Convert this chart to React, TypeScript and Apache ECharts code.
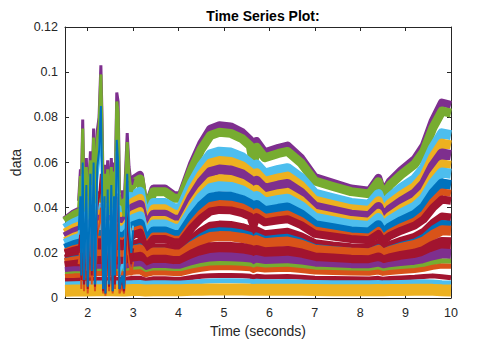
import React, { useEffect, useRef } from "react";
import * as echarts from "echarts";

// Sample times (seconds) shared by the band series
const times = [1.5, 1.7, 1.9, 2.2, 2.5, 2.8, 3.0, 3.15, 3.27, 3.45, 3.7, 3.9, 4.05, 4.3, 4.5, 4.7, 4.9, 5.15, 5.4, 5.58, 5.65, 5.72, 5.9, 6.2, 6.4, 6.7, 7.0, 7.4, 7.8, 8.2, 8.4, 8.5, 8.65, 8.9, 9.2, 9.4, 9.6, 9.8, 10];

// Band series, top to bottom
const band01 = [0.0345, 0.0375, 0.0395, 0.0455, 0.0455, 0.0435, 0.0525, 0.0545, 0.0385, 0.0485, 0.0485, 0.0455, 0.0455, 0.0595, 0.0685, 0.075, 0.0765, 0.076, 0.0735, 0.07, 0.0615, 0.0695, 0.0645, 0.0665, 0.0675, 0.062, 0.0535, 0.051, 0.0485, 0.0475, 0.0532, 0.0465, 0.0515, 0.0565, 0.0615, 0.0675, 0.0785, 0.0865, 0.0855];
const band02 = [0.0339, 0.0367, 0.0386, 0.0442, 0.0442, 0.0424, 0.0508, 0.0527, 0.0377, 0.0471, 0.0471, 0.0442, 0.0442, 0.0574, 0.0659, 0.072, 0.0734, 0.0729, 0.0706, 0.0673, 0.0593, 0.0668, 0.0621, 0.064, 0.0649, 0.0598, 0.0518, 0.0494, 0.0471, 0.0461, 0.0515, 0.0452, 0.0499, 0.0546, 0.0593, 0.0649, 0.0753, 0.0828, 0.0819];
const band03 = [0.0308, 0.0332, 0.0349, 0.0397, 0.0397, 0.0381, 0.0454, 0.047, 0.034, 0.0421, 0.0421, 0.0397, 0.0397, 0.0511, 0.0583, 0.0636, 0.0648, 0.0644, 0.0624, 0.0595, 0.0526, 0.0591, 0.0551, 0.0567, 0.0575, 0.0531, 0.0462, 0.0441, 0.0421, 0.0413, 0.046, 0.0405, 0.0445, 0.0486, 0.0526, 0.0575, 0.0664, 0.0729, 0.0721];
const band04 = [0.0288, 0.031, 0.0326, 0.0371, 0.0371, 0.0356, 0.0425, 0.0441, 0.0318, 0.0395, 0.0395, 0.0371, 0.0371, 0.0479, 0.0548, 0.0597, 0.0609, 0.0605, 0.0586, 0.0559, 0.0494, 0.0555, 0.0517, 0.0532, 0.054, 0.0498, 0.0433, 0.0414, 0.0395, 0.0387, 0.0431, 0.0379, 0.0418, 0.0456, 0.0494, 0.054, 0.0625, 0.0686, 0.0678];
const band05 = [0.0269, 0.029, 0.0305, 0.0347, 0.0347, 0.0333, 0.0398, 0.0412, 0.0298, 0.0369, 0.0369, 0.0347, 0.0347, 0.0448, 0.0512, 0.0558, 0.0569, 0.0565, 0.0548, 0.0522, 0.0462, 0.0519, 0.0483, 0.0498, 0.0505, 0.0465, 0.0405, 0.0387, 0.0369, 0.0362, 0.0403, 0.0355, 0.039, 0.0426, 0.0462, 0.0505, 0.0584, 0.064, 0.0633];
const band06 = [0.0252, 0.0272, 0.0285, 0.0325, 0.0325, 0.0312, 0.0371, 0.0385, 0.0278, 0.0345, 0.0345, 0.0325, 0.0325, 0.0418, 0.0477, 0.052, 0.053, 0.0527, 0.051, 0.0487, 0.0431, 0.0483, 0.045, 0.0464, 0.047, 0.0434, 0.0378, 0.0361, 0.0345, 0.0338, 0.0376, 0.0331, 0.0364, 0.0398, 0.0431, 0.047, 0.0543, 0.0596, 0.059];
const band07 = [0.024, 0.0258, 0.0271, 0.0307, 0.0307, 0.0295, 0.0349, 0.0362, 0.0264, 0.0325, 0.0325, 0.0307, 0.0307, 0.0392, 0.0447, 0.0486, 0.0495, 0.0492, 0.0477, 0.0455, 0.0404, 0.0452, 0.0422, 0.0434, 0.044, 0.0407, 0.0356, 0.034, 0.0325, 0.0319, 0.0354, 0.0313, 0.0343, 0.0374, 0.0404, 0.044, 0.0507, 0.0556, 0.055];
const band08 = [0.0218, 0.0234, 0.0245, 0.0279, 0.0279, 0.0268, 0.0318, 0.0329, 0.024, 0.0295, 0.0295, 0.0279, 0.0279, 0.0357, 0.0407, 0.0443, 0.0451, 0.0448, 0.0434, 0.0415, 0.0368, 0.0412, 0.0384, 0.0395, 0.0401, 0.037, 0.0323, 0.0309, 0.0295, 0.029, 0.0322, 0.0284, 0.0312, 0.034, 0.0368, 0.0401, 0.0462, 0.0507, 0.0501];
const band09 = [0.0204, 0.0219, 0.0229, 0.026, 0.026, 0.025, 0.0296, 0.0306, 0.0224, 0.0275, 0.0275, 0.026, 0.026, 0.0331, 0.0377, 0.041, 0.0418, 0.0415, 0.0403, 0.0385, 0.0341, 0.0382, 0.0357, 0.0367, 0.0372, 0.0344, 0.0301, 0.0288, 0.0275, 0.027, 0.0299, 0.0265, 0.029, 0.0316, 0.0341, 0.0372, 0.0428, 0.0469, 0.0464];
const band10 = [0.0197, 0.021, 0.022, 0.0247, 0.0247, 0.0238, 0.0279, 0.0289, 0.0215, 0.0261, 0.0261, 0.0247, 0.0247, 0.0312, 0.0353, 0.0383, 0.039, 0.0388, 0.0376, 0.036, 0.0321, 0.0358, 0.0335, 0.0344, 0.0349, 0.0323, 0.0284, 0.0272, 0.0261, 0.0256, 0.0283, 0.0252, 0.0275, 0.0298, 0.0321, 0.0349, 0.0399, 0.0436, 0.0431];
const band11 = [0.0174, 0.0185, 0.0192, 0.0214, 0.0214, 0.0207, 0.0239, 0.0246, 0.0189, 0.0225, 0.0225, 0.0214, 0.0214, 0.0264, 0.0296, 0.032, 0.0325, 0.0323, 0.0314, 0.0302, 0.0271, 0.03, 0.0282, 0.0289, 0.0293, 0.0273, 0.0243, 0.0233, 0.0225, 0.0221, 0.0242, 0.0217, 0.0235, 0.0253, 0.0271, 0.0293, 0.0332, 0.0361, 0.0357];
const band12 = [0.0164, 0.0174, 0.018, 0.0199, 0.0199, 0.0193, 0.0222, 0.0229, 0.0177, 0.0209, 0.0209, 0.0199, 0.0199, 0.0245, 0.0274, 0.0295, 0.03, 0.0298, 0.029, 0.0279, 0.0251, 0.0277, 0.0261, 0.0268, 0.0271, 0.0253, 0.0226, 0.0217, 0.0209, 0.0206, 0.0225, 0.0203, 0.0219, 0.0235, 0.0251, 0.0271, 0.0307, 0.0332, 0.0329];
const band13 = [0.0154, 0.0162, 0.0167, 0.0193, 0.0193, 0.0188, 0.0211, 0.0216, 0.0174, 0.0201, 0.0201, 0.0193, 0.0193, 0.023, 0.0253, 0.027, 0.0274, 0.0273, 0.0266, 0.0257, 0.0235, 0.0256, 0.0242, 0.0248, 0.025, 0.0236, 0.0214, 0.0207, 0.0201, 0.0198, 0.0213, 0.0195, 0.0208, 0.0222, 0.0235, 0.025, 0.0279, 0.03, 0.0298];
const band14 = [0.0136, 0.0142, 0.0147, 0.0159, 0.0159, 0.0155, 0.0173, 0.0178, 0.0144, 0.0165, 0.0165, 0.0159, 0.0159, 0.0188, 0.0207, 0.022, 0.0223, 0.0222, 0.0217, 0.021, 0.0192, 0.0208, 0.0198, 0.0202, 0.0204, 0.0193, 0.0175, 0.017, 0.0165, 0.0163, 0.0175, 0.0161, 0.0171, 0.0182, 0.0192, 0.0204, 0.0227, 0.0244, 0.0242];
const band15 = [0.0115, 0.0118, 0.012, 0.0128, 0.0128, 0.0125, 0.014, 0.0143, 0.0117, 0.0133, 0.0133, 0.0128, 0.0128, 0.0152, 0.0167, 0.0177, 0.018, 0.0179, 0.0175, 0.0169, 0.0155, 0.0168, 0.016, 0.0163, 0.0165, 0.0156, 0.0142, 0.0137, 0.0133, 0.0132, 0.0141, 0.013, 0.0138, 0.0147, 0.0155, 0.0165, 0.0183, 0.0197, 0.0195];
const band16 = [0.0104, 0.0107, 0.0109, 0.0119, 0.0119, 0.0117, 0.0127, 0.0129, 0.0111, 0.0122, 0.0122, 0.0119, 0.0119, 0.0134, 0.0144, 0.0151, 0.0153, 0.0152, 0.015, 0.0146, 0.0136, 0.0145, 0.014, 0.0142, 0.0143, 0.0137, 0.0128, 0.0125, 0.0122, 0.0121, 0.0127, 0.012, 0.0125, 0.0131, 0.0136, 0.0143, 0.0155, 0.0164, 0.0163];
const band17 = [0.0095, 0.0098, 0.01, 0.0108, 0.0108, 0.0107, 0.0114, 0.0116, 0.0103, 0.0111, 0.0111, 0.0108, 0.0108, 0.012, 0.0127, 0.0133, 0.0134, 0.0134, 0.0132, 0.0129, 0.0122, 0.0128, 0.0124, 0.0126, 0.0127, 0.0122, 0.0115, 0.0113, 0.0111, 0.011, 0.0115, 0.0109, 0.0113, 0.0117, 0.0122, 0.0127, 0.0136, 0.0142, 0.0141];
const band18 = [0.0077, 0.0078, 0.008, 0.0083, 0.0083, 0.0082, 0.0087, 0.0088, 0.0079, 0.0085, 0.0085, 0.0083, 0.0083, 0.0091, 0.0096, 0.0099, 0.01, 0.01, 0.0098, 0.0096, 0.0092, 0.0096, 0.0093, 0.0094, 0.0095, 0.0092, 0.0087, 0.0086, 0.0085, 0.0084, 0.0087, 0.0083, 0.0086, 0.0089, 0.0092, 0.0095, 0.0098, 0.0094, 0.009];
const band19 = [0.0062, 0.0063, 0.0064, 0.0066, 0.0066, 0.0066, 0.0068, 0.0069, 0.0065, 0.0067, 0.0067, 0.0066, 0.0066, 0.007, 0.0073, 0.0075, 0.0076, 0.0076, 0.0075, 0.0074, 0.0072, 0.0074, 0.0072, 0.0072, 0.0073, 0.0071, 0.0069, 0.0068, 0.0067, 0.0067, 0.0069, 0.0067, 0.0068, 0.0069, 0.0071, 0.0072, 0.0071, 0.0068, 0.0066];
const band20 = [0.0032, 0.0033, 0.0033, 0.0034, 0.0034, 0.0033, 0.0035, 0.0035, 0.0033, 0.0034, 0.0034, 0.0034, 0.0034, 0.0036, 0.0037, 0.0038, 0.0038, 0.0038, 0.0038, 0.0037, 0.0036, 0.0037, 0.0036, 0.0037, 0.0037, 0.0036, 0.0035, 0.0034, 0.0034, 0.0034, 0.0035, 0.0034, 0.0035, 0.0035, 0.0036, 0.0037, 0.0036, 0.0034, 0.0033];

// Spiky burst between ~1.8 and 3.0 seconds
const spikeTimes = [1.8, 1.84, 1.86, 1.89, 1.92, 1.97, 2.0, 2.06, 2.09, 2.13, 2.16, 2.21, 2.25, 2.29, 2.31, 2.34, 2.37, 2.39, 2.44, 2.47, 2.52, 2.55, 2.58, 2.6, 2.64, 2.67, 2.7, 2.76, 2.8, 2.87, 2.91, 2.96, 3.0];
const spikePurple = [0.043, 0.057, 0.048, 0.079, 0.044, 0.062, 0.04, 0.065, 0.044, 0.075, 0.048, 0.074, 0.08, 0.103, 0.085, 0.049, 0.059, 0.04, 0.061, 0.041, 0.062, 0.044, 0.06, 0.044, 0.091, 0.087, 0.047, 0.047, 0.04, 0.073, 0.058, 0.05, 0.053];
const spikeGreen = [0.04, 0.054, 0.042, 0.075, 0.04, 0.058, 0.035, 0.061, 0.04, 0.071, 0.044, 0.07, 0.076, 0.099, 0.08, 0.044, 0.055, 0.036, 0.057, 0.037, 0.058, 0.04, 0.056, 0.04, 0.087, 0.082, 0.042, 0.043, 0.036, 0.069, 0.054, 0.047, 0.05];
const spikeLightBlue = [0.028, 0.04, 0.02, 0.055, 0.015, 0.045, 0.012, 0.05, 0.018, 0.055, 0.012, 0.052, 0.06, 0.075, 0.055, 0.01, 0.04, 0.01, 0.042, 0.012, 0.045, 0.01, 0.04, 0.015, 0.065, 0.055, 0.01, 0.015, 0.012, 0.05, 0.035, 0.025, 0.032];
const spikeBlue = [0.03, 0.045, 0.01, 0.06, 0.008, 0.05, 0.005, 0.055, 0.012, 0.06, 0.006, 0.058, 0.065, 0.085, 0.06, 0.004, 0.045, 0.002, 0.048, 0.006, 0.05, 0.003, 0.045, 0.01, 0.07, 0.06, 0.004, 0.01, 0.004, 0.055, 0.03, 0.02, 0.03];
const spikeDarkRed = [0.02, 0.03, 0.008, 0.04, 0.006, 0.035, 0.004, 0.038, 0.01, 0.042, 0.005, 0.04, 0.045, 0.055, 0.04, 0.003, 0.03, 0.002, 0.032, 0.005, 0.034, 0.003, 0.03, 0.006, 0.045, 0.04, 0.004, 0.008, 0.003, 0.038, 0.022, 0.015, 0.022];
const spikeOrange = [0.015, 0.022, 0.004, 0.03, 0.003, 0.025, 0.002, 0.028, 0.006, 0.03, 0.003, 0.028, 0.032, 0.04, 0.03, 0.002, 0.022, 0.001, 0.024, 0.003, 0.025, 0.002, 0.022, 0.004, 0.033, 0.03, 0.002, 0.005, 0.002, 0.028, 0.016, 0.01, 0.016];

const xTicks = [2, 3, 4, 5, 6, 7, 8, 9, 10];

const C = {
  blue: "#0072BD",
  orange: "#D95319",
  yellow: "#EDB120",
  purple: "#7E2F8E",
  green: "#77AC30",
  lightblue: "#4DBEEE",
  darkred: "#A2142F",
};

const bands = [
  { v: band01, c: C.purple, w: 8 },
  { v: band02, c: C.green, w: 9 },
  { v: band03, c: C.lightblue, w: 10 },
  { v: band04, c: C.yellow, w: 9 },
  { v: band05, c: C.purple, w: 10 },
  { v: band06, c: C.yellow, w: 8 },
  { v: band07, c: C.lightblue, w: 10 },
  { v: band08, c: C.blue, w: 10 },
  { v: band09, c: C.orange, w: 7 },
  { v: band10, c: C.darkred, w: 8 },
  { v: band11, c: C.darkred, w: 8 },
  { v: band12, c: C.blue, w: 6 },
  { v: band13, c: C.orange, w: 10 },
  { v: band14, c: C.darkred, w: 12 },
  { v: band15, c: C.purple, w: 10 },
  { v: band16, c: C.green, w: 5 },
  { v: band17, c: C.orange, w: 5 },
  { v: band18, c: C.darkred, w: 5 },
  { v: band19, c: C.lightblue, w: 5 },
  { v: band20, c: C.yellow, w: 12 },
];

const spikes = [
  { v: spikePurple, c: C.purple, w: 3 },
  { v: spikeGreen, c: C.green, w: 3 },
  { v: spikeOrange, c: C.orange, w: 2 },
  { v: spikeDarkRed, c: C.darkred, w: 2 },
  { v: spikeLightBlue, c: C.lightblue, w: 2 },
  { v: spikeBlue, c: C.blue, w: 2 },
];

const AX = "#262626";
const FONT = "'Liberation Sans', Arial, Helvetica, sans-serif";

export default function App() {
  const ref = useRef<HTMLDivElement>(null);
  useEffect(() => {
    if (!ref.current) return;
    const chart = echarts.init(ref.current, null, { renderer: "svg" });
    const series: any[] = [];
    bands.forEach((b) => {
      series.push({
        type: "line",
        data: times.map((t, i) => [t, b.v[i]]),
        showSymbol: false,
        symbol: "none",
        lineStyle: { color: b.c, width: b.w, cap: "butt", join: "round" },
        itemStyle: { color: b.c },
        silent: true,
        z: 2,
      });
    });
    spikes.forEach((s) => {
      series.push({
        type: "line",
        data: spikeTimes.map((t, i) => [t, s.v[i]]),
        showSymbol: false,
        symbol: "none",
        lineStyle: { color: s.c, width: s.w, join: "miter" },
        itemStyle: { color: s.c },
        silent: true,
        z: 3,
      });
    });
    const baseX = {
      type: "value",
      min: 1.5,
      max: 10,
      splitLine: { show: false },
      axisLine: { show: true, onZero: false, lineStyle: { color: AX, width: 1 } },
    };
    const baseY = {
      type: "value",
      min: 0,
      max: 0.12,
      interval: 0.02,
      splitLine: { show: false },
      axisLine: { show: true, onZero: false, lineStyle: { color: AX, width: 1 } },
    };
    chart.setOption({
      animation: false,
      backgroundColor: "#ffffff",
      title: {
        text: "Time Series Plot:",
        left: 258,
        top: 4,
        textAlign: "center",
        textStyle: { fontFamily: FONT, fontSize: 14, fontWeight: "bold", color: "#000000" },
      },
      grid: { left: 65, right: 47, top: 27, bottom: 43 },
      xAxis: [
        {
          ...baseX,
          position: "bottom",
          name: "Time (seconds)",
          nameLocation: "middle",
          nameGap: 26,
          nameTextStyle: { fontFamily: FONT, fontSize: 14, color: AX },
          axisTick: { show: true, inside: true, length: 4, lineStyle: { color: AX }, customValues: xTicks },
          axisLabel: { show: true, margin: 8, fontFamily: FONT, fontSize: 12.5, color: AX, customValues: xTicks },
        },
        {
          ...baseX,
          position: "top",
          axisTick: { show: true, inside: true, length: 4, lineStyle: { color: AX }, customValues: xTicks },
          axisLabel: { show: false },
        },
      ],
      yAxis: [
        {
          ...baseY,
          position: "left",
          name: "data",
          nameLocation: "middle",
          nameGap: 36,
          nameTextStyle: { fontFamily: FONT, fontSize: 14, color: AX },
          axisTick: { show: true, inside: true, length: 4, lineStyle: { color: AX } },
          axisLabel: {
            show: true,
            margin: 7,
            fontFamily: FONT,
            fontSize: 12.5,
            color: AX,
            formatter: (v: number) => String(Math.round(v * 100) / 100),
          },
        },
        {
          ...baseY,
          position: "right",
          axisTick: { show: true, inside: true, length: 4, lineStyle: { color: AX } },
          axisLabel: { show: false },
        },
      ],
      series,
    });
    return () => chart.dispose();
  }, []);
  return <div ref={ref} style={{ width: 498, height: 343, position: "absolute", left: 0, top: 0 }} />;
}
